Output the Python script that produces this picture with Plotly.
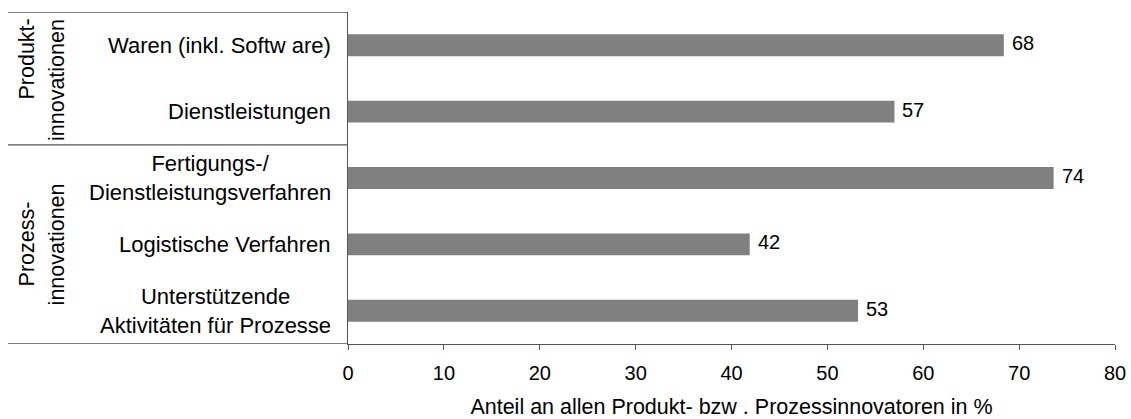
import plotly.graph_objects as go

categories = ["Waren (inkl. Softw are)", "Dienstleistungen",
              "Fertigungs-/<br>Dienstleistungsverfahren", "Logistische Verfahren",
              "Unterstützende<br>Aktivitäten für Prozesse"]
values = [68.4, 57.0, 73.6, 41.9, 53.2]
labels = [str(round(v)) for v in values]
groups = [["Produkt-", "innovationen"], ["Prozess-", "innovationen"]]
x_ticks = [0, 10, 20, 30, 40, 50, 60, 70, 80]
x_title = "Anteil an allen Produkt- bzw . Prozessinnovatoren in %"

W, H = 1131, 419
L, R, T, B = 348, 16, 12, 75
pw = W - L - R
ph = H - T - B

def px_x(p):  # screen pixel -> paper
    return (p - L) / pw

def px_y(p):
    return 1 - (p - T) / ph

font_main = "Liberation Sans, Arial, sans-serif"
line_col = "#555555"

ycat = list(range(len(categories)))

fig = go.Figure()
fig.add_trace(go.Bar(
    x=values, y=ycat, orientation="h",
    marker=dict(color="#808080", line=dict(width=0)),
    width=0.33, hoverinfo="skip",
))

annotations = []
for i, c in enumerate(categories):
    annotations.append(dict(
        x=px_x(333), xref="paper", y=i, yref="y", text=c, showarrow=False,
        xanchor="right", yanchor="middle", align="center",
        font=dict(family=font_main, size=22, color="#000000"),
    ))
for i, (v, t) in enumerate(zip(values, labels)):
    annotations.append(dict(
        x=v, xref="x", y=i, yref="y", text=t, showarrow=False,
        xanchor="left", yanchor="middle", xshift=6, yshift=2,
        font=dict(family=font_main, size=20, color="#000000"),
    ))

gfont = dict(family=font_main, size=21.5, color="#000000")
annotations.append(dict(x=px_x(27), xref="paper", y=px_y(17), yref="paper", text=groups[0][0],
                        textangle=-90, showarrow=False, xanchor="center", yanchor="top", font=gfont))
annotations.append(dict(x=px_x(57), xref="paper", y=px_y(17), yref="paper", text=groups[0][1],
                        textangle=-90, showarrow=False, xanchor="center", yanchor="top", font=gfont))
annotations.append(dict(x=px_x(27), xref="paper", y=3, yref="y", text=groups[1][0],
                        textangle=-90, showarrow=False, xanchor="center", yanchor="middle", font=gfont))
annotations.append(dict(x=px_x(57), xref="paper", y=3, yref="y", text=groups[1][1],
                        textangle=-90, showarrow=False, xanchor="center", yanchor="middle", font=gfont))

shapes = []
for yb in [-0.5, 1.5, 4.5]:
    shapes.append(dict(type="line", xref="paper", yref="y", x0=px_x(8), x1=0,
                       y0=yb, y1=yb, line=dict(color=line_col, width=1.3)))

fig.update_layout(
    template="none",
    width=W, height=H,
    margin=dict(l=L, r=R, t=T, b=B, autoexpand=False),
    paper_bgcolor="white", plot_bgcolor="white",
    font=dict(family=font_main, color="#000000"),
    showlegend=False,
    annotations=annotations,
    shapes=shapes,
    xaxis=dict(
        range=[0, 80], tickvals=x_ticks, ticktext=[str(t) for t in x_ticks],
        showgrid=False, zeroline=False, automargin=False,
        showline=True, linecolor=line_col, linewidth=1.3,
        ticks="outside", ticklen=5, tickcolor=line_col, tickwidth=1.3,
        tickfont=dict(family=font_main, size=20, color="#000000"),
        ticklabelstandoff=6,
        title=dict(text=x_title, standoff=17,
                   font=dict(family=font_main, size=21.5, color="#000000")),
    ),
    yaxis=dict(
        range=[4.5, -0.5], showgrid=False, zeroline=False, automargin=False,
        showticklabels=False, ticks="",
        showline=True, linecolor=line_col, linewidth=1.3,
    ),
)

fig.write_html(
    "out.html",
    config={"displayModeBar": False},
    post_script="document.body.style.margin='0';document.body.style.overflow='hidden';",
)
